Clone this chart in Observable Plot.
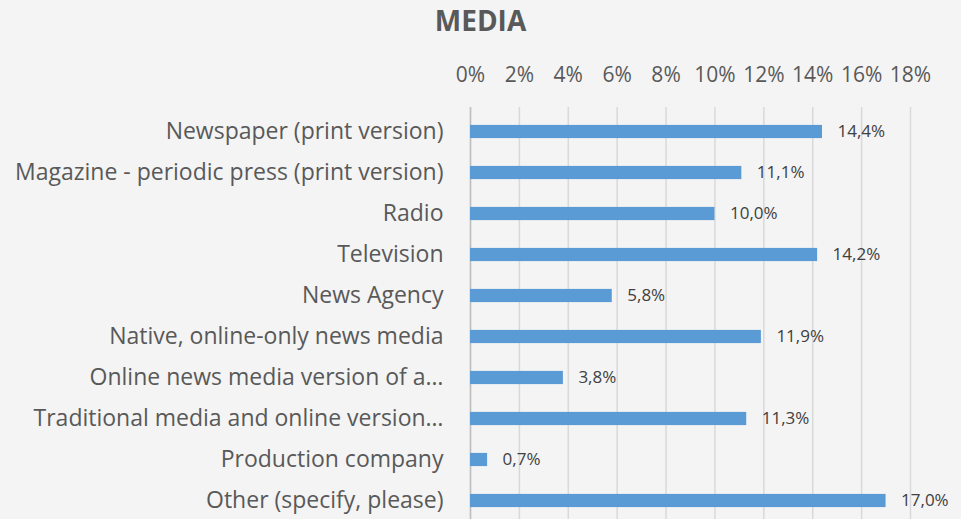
<!DOCTYPE html>
<html>
<head>
<meta charset="utf-8">
<script src="https://cdn.jsdelivr.net/npm/d3@7"></script>
<script src="https://cdn.jsdelivr.net/npm/@observablehq/plot@0.6"></script>
<style>
  html, body { margin: 0; padding: 0; background: #f4f4f4; overflow: hidden; }
  #title { height: 40px; line-height: 40px; text-align: center; font-family: "Open Sans", sans-serif;
           font-weight: bold; font-size: 28px; color: #595959; }
  #chart svg { display: block; }
</style>
</head>
<body>
<div id="title">MEDIA</div>
<div id="chart"></div>
<script>
const categories = [
  "Newspaper (print version)",
  "Magazine - periodic press (print version)",
  "Radio",
  "Television",
  "News Agency",
  "Native, online-only news media",
  "Online news media version of a…",
  "Traditional media and online version…",
  "Production company",
  "Other (specify, please)"
];
const values = [14.4, 11.1, 10.0, 14.2, 5.8, 11.9, 3.8, 11.3, 0.7, 17.0];
const xTicks = [0, 2, 4, 6, 8, 10, 12, 14, 16, 18];

const data = categories.map((c, i) => ({category: c, value: values[i]}));
const fmt = v => v.toFixed(1).replace(".", ",") + "%";

const chart = Plot.plot({
  width: 961,
  height: 485,
  marginTop: 67,
  marginBottom: 0,
  marginLeft: 470,
  marginRight: 51,
  style: {background: "#f4f4f4", fontFamily: "Open Sans, sans-serif", color: "#595959", overflow: "visible"},
  x: {domain: [0, 18], ticks: xTicks},
  y: {domain: categories, padding: 0},
  marks: [
    Plot.gridX(xTicks, {stroke: "#d9d9d9", strokeOpacity: 1, strokeWidth: 1.5}),
    Plot.ruleX([0], {stroke: "#bfbfbf", strokeWidth: 1.5}),
    Plot.axisX({anchor: "top", ticks: xTicks, tickSize: 0, tickPadding: 26, fontSize: 21,
      tickFormat: d => d + "%", label: null, fill: "#595959"}),
    Plot.axisY({tickSize: 0, tickPadding: 27, fontSize: 23, label: null, fill: "#595959"}),
    Plot.barX(data, {x: "value", y: "category", fill: "#5b9bd5", insetTop: 13.9, insetBottom: 13.9}),
    Plot.text(data, {x: "value", y: "category", text: d => fmt(d.value), textAnchor: "start",
      dx: 15, fontSize: 17, fill: "#404040"})
  ]
});
document.getElementById("chart").appendChild(chart);
</script>
</body>
</html>
